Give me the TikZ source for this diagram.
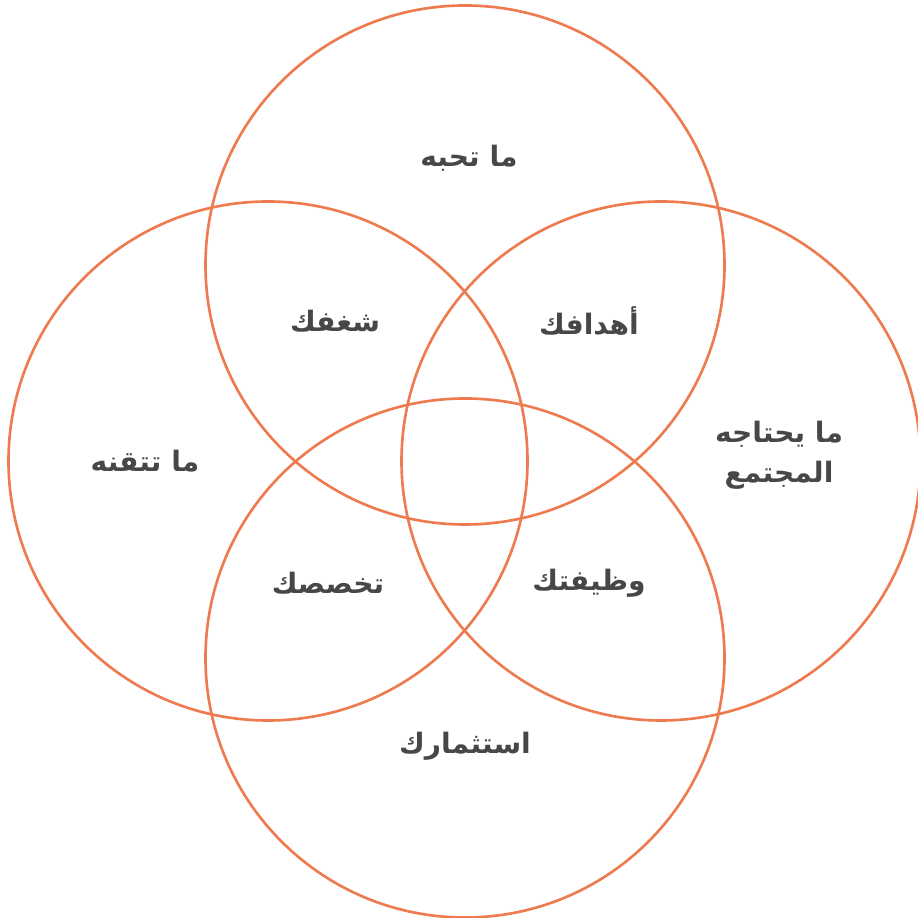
\documentclass[tikz,border=0pt]{standalone}
\usepackage{fontspec}
\newfontfamily\arabicfont[Script=Arabic]{DejaVu Sans}
\TeXXeTstate=1
\definecolor{ringorange}{HTML}{EE7B4F}
\definecolor{labelgray}{HTML}{474747}

\begin{document}
\begin{tikzpicture}[x=1cm, y=1cm]
            \useasboundingbox (0,0) rectangle (9.17,9.18);
            \tikzset{
                ring/.style={circle, draw=ringorange, line width=0.75pt, minimum size=51.9mm, inner sep=0pt},
                word/.style={text=labelgray, font=\arabicfont\bfseries\fontsize{8}{11.5}\selectfont, align=center}
            }

            \node[ring] (love) at (4.65,6.53) {};
            \node[ring] (good) at (2.68,4.57) {};
            \node[ring] (need) at (6.61,4.57) {};
            \node[ring] (paid) at (4.65,2.60) {};

            \node[word] (l1) at (4.69,7.60) {\beginR ما تحبه\endR};
            \node[word] (l2) at (3.35,5.97) {\beginR شغفك\endR};
            \node[word] (l3) at (5.89,5.97) {\beginR أهدافك\endR};
            \node[word] (l4) at (1.45,4.57) {\beginR ما تتقنه\endR};
            \node[word] (l5) at (7.79,4.63) {\beginR ما يحتاجه\endR\\\beginR المجتمع\endR};
            \node[word] (l6) at (3.28,3.35) {\beginR تخصصك\endR};
            \node[word] (l7) at (5.89,3.35) {\beginR وظيفتك\endR};
            \node[word] (l8) at (4.65,1.72) {\beginR استثمارك\endR};
        \end{tikzpicture}
\end{document}
